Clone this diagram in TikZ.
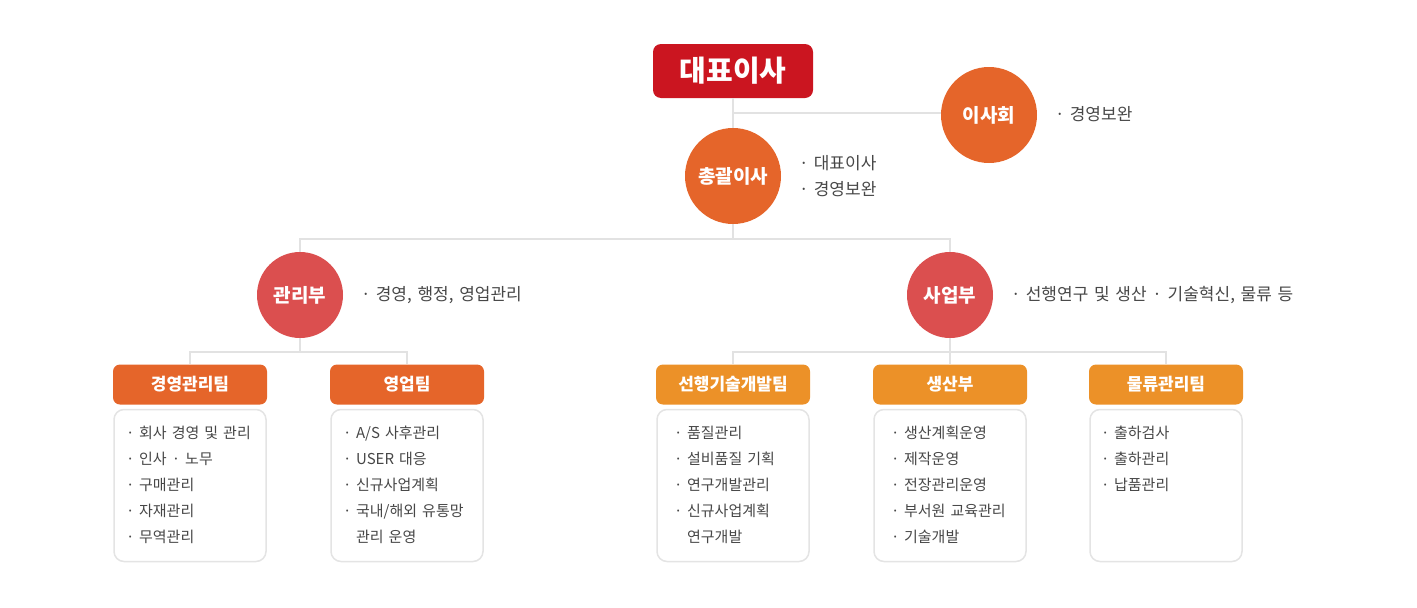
\documentclass[tikz,border=0pt]{standalone}
\usepackage{fontspec}
\setmainfont{Noto Sans CJK KR}
\newfontfamily\sidefont{Noto Sans CJK KR}[WordSpace=2.0]
\newfontfamily\itemfont{Noto Sans CJK KR}[WordSpace=1.5]
\newcommand\bul{·\hskip 0.3em\relax}
\definecolor{ceoRed}{HTML}{CB1520}
\definecolor{orangeA}{HTML}{E5652A}
\definecolor{redB}{HTML}{DB4F4F}
\definecolor{orangeC}{HTML}{EC9128}
\definecolor{lineGray}{HTML}{E2E2E2}
\definecolor{boxGray}{HTML}{E4E4E4}
\definecolor{txtGray}{HTML}{474747}
\tikzset{
  conn/.style={draw=lineGray, line width=2pt},
  ceobox/.style={rectangle, rounded corners=8pt, fill=ceoRed, text=white, minimum width=160pt, minimum height=54pt, inner sep=0pt, font=\fontsize{29}{31}\selectfont\bfseries},
  bigcirc/.style={circle, fill=orangeA, text=white, minimum size=96pt, inner sep=0pt, font=\fontsize{19}{21}\selectfont\bfseries},
  midcirc/.style={circle, fill=redB, text=white, minimum size=86pt, inner sep=0pt, font=\fontsize{19}{21}\selectfont\bfseries},
  headA/.style={rectangle, rounded corners=7pt, fill=orangeA, text=white, minimum width=154pt, minimum height=40pt, inner sep=0pt, font=\fontsize{17}{19}\selectfont\bfseries},
  headC/.style={headA, fill=orangeC},
  listbox/.style={rectangle, rounded corners=10pt, draw=boxGray, line width=1.5pt, fill=white, minimum width=152pt, minimum height=152pt, inner sep=0pt},
  sidetext/.style={anchor=west, inner sep=0pt, text=txtGray, text height=12pt, text depth=1pt, font=\sidefont\fontsize{17}{19}\selectfont},
  itemtext/.style={anchor=west, inner sep=0pt, text=txtGray, text height=11pt, text depth=1pt, font=\itemfont\fontsize{15}{17}\selectfont},
}
\begin{document}
\begin{tikzpicture}[x=1pt,y=-1pt]
\useasboundingbox (0,0) rectangle (1417,608);
% top level
\node[ceobox] (ceo) at (733,71) {대표이사};
\node[bigcirc] (board) at (989,115) {이사회};
\node[bigcirc] (gm) at (733,176) {총괄이사};
\node[sidetext] (boardtxt) at (1055,115) {\bul 경영보완};
\node[sidetext] (gmtxt1) at (799,164) {\bul 대표이사};
\node[sidetext] (gmtxt2) at (799,190) {\bul 경영보완};
% second level
\node[midcirc] (mg) at (300,295) {관리부};
\node[midcirc] (bz) at (950,295) {사업부};
\node[sidetext] (mgtxt) at (361,295) {\bul 경영, 행정, 영업관리};
\node[sidetext] (bztxt) at (1011,295) {\bul 선행연구 및 생산 · 기술혁신, 물류 등};
% headers
\node[headA] (h1) at (190,384.5) {경영관리팀};
\node[headA] (h2) at (407,384.5) {영업팀};
\node[headC] (h3) at (733,384.5) {선행기술개발팀};
\node[headC] (h4) at (950,384.5) {생산부};
\node[headC] (h5) at (1166,384.5) {물류관리팀};
% list boxes
\node[listbox] (b1) at (190,485.5) {};
\node[listbox] (b2) at (407,485.5) {};
\node[listbox] (b3) at (733,485.5) {};
\node[listbox] (b4) at (950,485.5) {};
\node[listbox] (b5) at (1166,485.5) {};
% items
\foreach \t [count=\i] in {\bul 회사 경영 및 관리, \bul 인사 · 노무, \bul 구매관리, \bul 자재관리, \bul 무역관리}
  \node[itemtext] (ia\i) at (126,407+26*\i) {\t};
\foreach \t [count=\i] in {\bul A/S 사후관리, \bul USER 대응, \bul 신규사업계획, \bul 국내/해외 유통망, \phantom{\bul}관리 운영}
  \node[itemtext] (ib\i) at (343,407+26*\i) {\t};
\foreach \t [count=\i] in {\bul 품질관리, \bul 설비품질 기획, \bul 연구개발관리, \bul 신규사업계획, \phantom{\bul}연구개발}
  \node[itemtext] (ic\i) at (674,407+26*\i) {\t};
\foreach \t [count=\i] in {\bul 생산계획운영, \bul 제작운영, \bul 전장관리운영, \bul 부서원 교육관리, \bul 기술개발}
  \node[itemtext] (id\i) at (891,407+26*\i) {\t};
\foreach \t [count=\i] in {\bul 출하검사, \bul 출하관리, \bul 납품관리}
  \node[itemtext] (ie\i) at (1101,407+26*\i) {\t};
% connectors
\coordinate (j0) at (733,113);
\coordinate (j1) at (733,239);
\coordinate (j2) at (300,352);
\coordinate (j3) at (950,352);
\draw[conn] (ceo.south) -- (gm.north);
\draw[conn] (j0) -- (board.west |- j0);
\draw[conn] (gm.south) -- (j1);
\draw[conn] (mg.north) |- (j1) -| (bz.north);
\draw[conn] (mg.south) -- (j2);
\draw[conn] (h1.north) |- (j2) -| (h2.north);
\draw[conn] (bz.south) -- (h4.north);
\draw[conn] (h3.north) |- (j3) -| (h5.north);
\end{tikzpicture}
\end{document}
